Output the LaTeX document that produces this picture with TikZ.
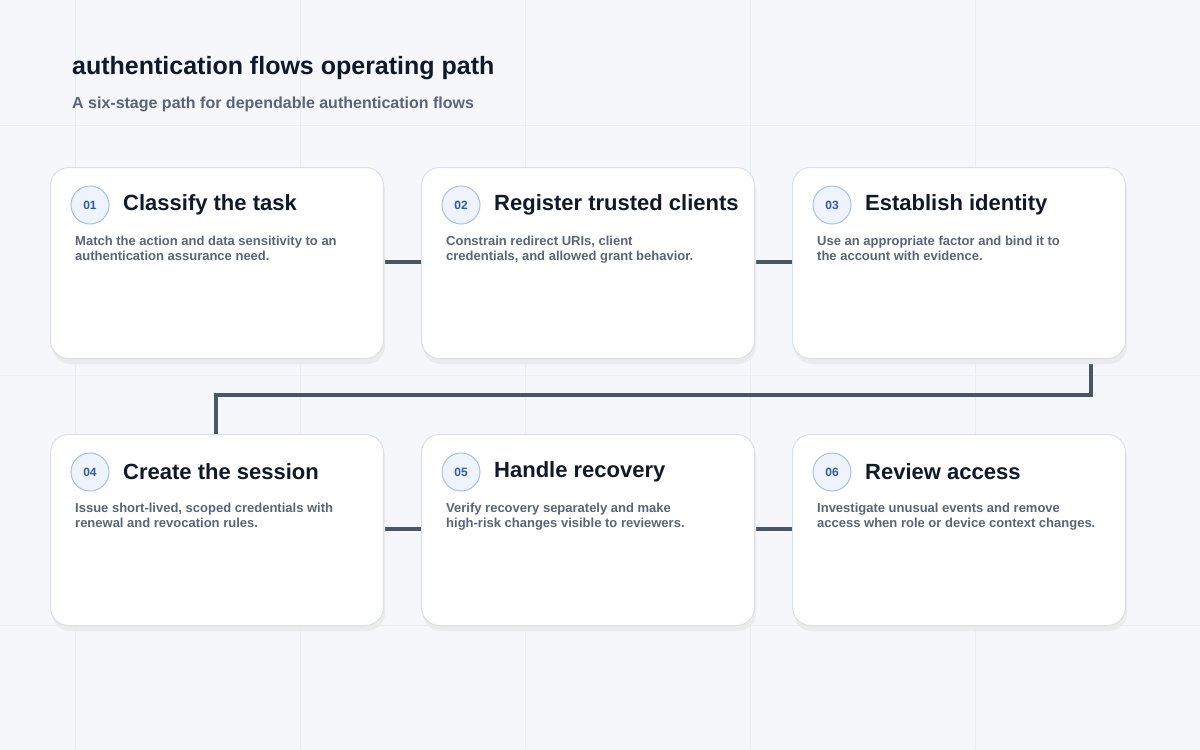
\documentclass[tikz,border=0pt]{standalone}
\usepackage{fontspec}
\setmainfont{Liberation Sans}
\definecolor{bgcolor}{HTML}{F5F7FB}
\definecolor{gridcolor}{HTML}{E9EDF4}
\definecolor{cardline}{HTML}{D9E0EA}
\definecolor{linkcolor}{HTML}{4A5568}
\definecolor{titlecolor}{HTML}{111827}
\definecolor{textcolor}{HTML}{5B6475}
\definecolor{badgefill}{HTML}{EEF3FC}
\definecolor{badgeline}{HTML}{A9C0EA}
\definecolor{badgetext}{HTML}{2F5BA8}
\tikzset{
  card/.style={draw=cardline, line width=1pt, fill=white, rounded corners=18pt,
    minimum width=333pt, minimum height=191pt, anchor=north west},
  badge/.style={circle, draw=badgeline, line width=1pt, fill=badgefill,
    minimum size=38pt, inner sep=0pt, text=badgetext, font=\fontsize{12}{12}\selectfont\bfseries},
  stagetitle/.style={anchor=west, text=titlecolor, inner sep=0pt, font=\fontsize{22}{24}\selectfont\bfseries},
  stagetext/.style={anchor=north west, text=textcolor, inner sep=0pt, align=left,
    font=\fontsize{13}{15}\selectfont\bfseries},
  link/.style={draw=linkcolor, line width=3.5pt}
}

\begin{document}
\begin{tikzpicture}[x=1pt, y=-1pt]
% background
\fill[bgcolor] (0,0) rectangle (1200,750);
\useasboundingbox (0,0) rectangle (1200,750);
\foreach \gx in {75,300,525,750,975}
  \draw[gridcolor, line width=0.6pt] (\gx,0) -- (\gx,750);
\foreach \gy in {125,375,625}
  \draw[gridcolor, line width=0.6pt] (0,\gy) -- (1200,\gy);

% heading
\node[anchor=west, inner sep=0pt, text=titlecolor, font=\fontsize{25}{28}\selectfont\bfseries] (title) at (72,68) {authentication flows operating path};
\node[anchor=west, inner sep=0pt, text=textcolor, font=\fontsize{16}{18}\selectfont\bfseries] (subtitle) at (72,104) {A six-stage path for dependable authentication flows};

% connectors
\draw[link] (383,262) -- (421,262);
\draw[link] (754,262) -- (792,262);
\draw[link] (1091,358) -- (1091,395) -- (216,395) -- (216,434);
\draw[link] (383,529) -- (421,529);
\draw[link] (754,529) -- (792,529);

% stage cards
\foreach \n/\cx/\cy/\head/\body in {
  01/50/167/Classify the task/{Match the action and data sensitivity to an\\authentication assurance need.},
  02/421/167/Register trusted clients/{Constrain redirect URIs, client\\credentials, and allowed grant behavior.},
  03/792/167/Establish identity/{Use an appropriate factor and bind it to\\the account with evidence.},
  04/50/434/Create the session/{Issue short-lived, scoped credentials with\\renewal and revocation rules.},
  05/421/434/Handle recovery/{Verify recovery separately and make\\high-risk changes visible to reviewers.},
  06/792/434/Review access/{Investigate unusual events and remove\\access when role or device context changes.}}
{
  \fill[black!8, rounded corners=18pt] (\cx+2,\cy+6) rectangle ++(333,191);
  \node[card] (card\n) at (\cx,\cy) {};
  \node[badge] (badge\n) at (\cx+40,\cy+38) {\n};
  \node[stagetitle] (head\n) at (\cx+73,\cy+38) {\head};
  \node[stagetext] (body\n) at (\cx+25,\cy+69) {\body};
}
\end{tikzpicture}
\end{document}
